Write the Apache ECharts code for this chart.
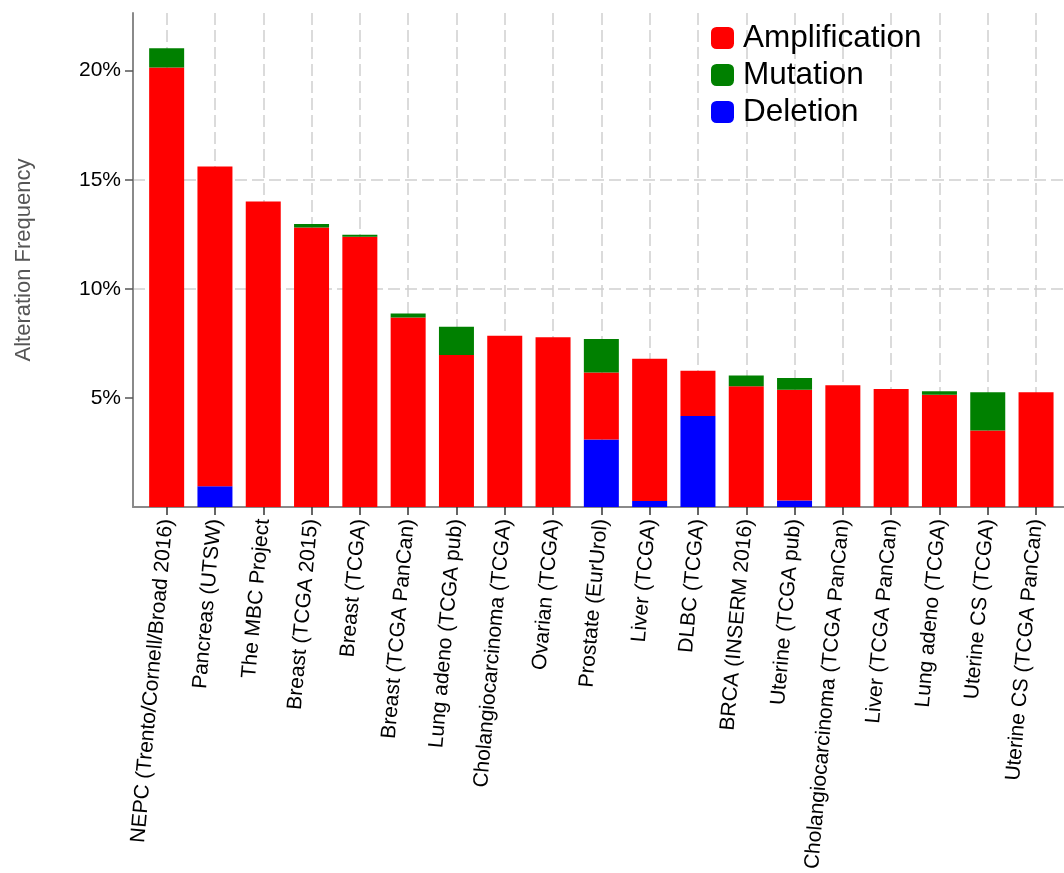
<!DOCTYPE html>
<html>
<head>
<meta charset="utf-8">
<style>
  html, body { margin: 0; padding: 0; background: #fff; }
  #chart { width: 1064px; height: 873px; }
</style>
<script src="https://cdn.jsdelivr.net/npm/echarts@6/dist/echarts.min.js"></script>
</head>
<body>
<div id="chart"></div>
<script>
// Studies, ordered by total alteration frequency
const studies = [
  'NEPC (Trento/Cornell/Broad 2016)',
  'Pancreas (UTSW)',
  'The MBC Project',
  'Breast (TCGA 2015)',
  'Breast (TCGA)',
  'Breast (TCGA PanCan)',
  'Lung adeno (TCGA pub)',
  'Cholangiocarcinoma (TCGA)',
  'Ovarian (TCGA)',
  'Prostate (EurUrol)',
  'Liver (TCGA)',
  'DLBC (TCGA)',
  'BRCA (INSERM 2016)',
  'Uterine (TCGA pub)',
  'Cholangiocarcinoma (TCGA PanCan)',
  'Liver (TCGA PanCan)',
  'Lung adeno (TCGA)',
  'Uterine CS (TCGA)',
  'Uterine CS (TCGA PanCan)'
];

// Alteration frequency (%) per study, by alteration type
const deletion      = [0, 0.95, 0, 0, 0, 0, 0, 0, 0, 3.09, 0.27, 4.17, 0, 0.30, 0, 0, 0, 0, 0];
const amplification = [20.14, 14.65, 14.00, 12.81, 12.39, 8.68, 6.97, 7.85, 7.78, 3.07, 6.53, 2.08, 5.53, 5.07, 5.58, 5.41, 5.14, 3.51, 5.26];
const mutation      = [0.89, 0, 0, 0.16, 0.09, 0.19, 1.29, 0, 0, 1.54, 0, 0, 0.50, 0.54, 0, 0, 0.16, 1.75, 0];

const yTicks = [5, 10, 15, 20];
const yMax = 22.64;

const FONT = '"Liberation Sans", Arial, Helvetica, sans-serif';
const gridLine = { color: '#cfcfcf', width: 1.5, type: [12, 5] };

const chart = echarts.init(document.getElementById('chart'), null, { renderer: 'canvas' });

chart.setOption({
  animation: false,
  backgroundColor: '#ffffff',
  textStyle: { fontFamily: FONT },
  grid: [
    // frame: axis lines, value ticks and horizontal guides
    { left: 133, right: 0, top: 13, bottom: 366 },
    // bars and category labels
    { left: 142.5, right: 3.8, top: 13, bottom: 366 }
  ],
  legend: {
    data: ['Amplification', 'Mutation', 'Deletion'],
    orient: 'vertical',
    left: 711,
    top: 22,
    padding: 0,
    itemWidth: 23,
    itemHeight: 22,
    itemGap: 5,
    icon: 'roundRect',
    textStyle: {
      fontFamily: FONT,
      fontSize: 31.5,
      color: '#000',
      padding: [0, 0, 0, 4]
    }
  },
  xAxis: [
    {
      type: 'value', gridIndex: 0, min: 0, max: 1,
      axisLine: { show: true, lineStyle: { color: '#8a8a8a', width: 2 } },
      axisTick: { show: false },
      axisLabel: { show: false },
      splitLine: { show: false }
    },
    {
      type: 'category', gridIndex: 1, data: studies,
      axisLine: { show: false },
      axisTick: { show: true, alignWithLabel: true, length: 8, lineStyle: { color: '#333', width: 1.5 } },
      axisLabel: {
        interval: 0, rotate: 85, margin: 12,
        fontFamily: FONT, fontSize: 21, color: '#000'
      },
      splitLine: { show: true, alignWithLabel: true, lineStyle: gridLine }
    }
  ],
  yAxis: [
    {
      type: 'value', gridIndex: 0, min: 0, max: yMax, interval: 5,
      name: 'Alteration Frequency',
      nameLocation: 'middle',
      nameRotate: 90,
      nameGap: 98,
      nameTextStyle: { fontFamily: FONT, fontSize: 22, color: '#555' },
      axisLine: { show: true, lineStyle: { color: '#8a8a8a', width: 2 } },
      axisTick: { show: true, length: 8, customValues: yTicks, lineStyle: { color: '#555', width: 1.5 } },
      axisLabel: {
        margin: 12, fontFamily: FONT, fontSize: 21, color: '#000',
        customValues: yTicks,
        formatter: v => v + '%'
      },
      splitLine: { show: true, showMinLine: false, showMaxLine: false, lineStyle: gridLine }
    },
    {
      type: 'value', gridIndex: 1, min: 0, max: yMax,
      show: false,
      splitLine: { show: false }
    }
  ],
  series: [
    {
      name: 'Deletion', type: 'bar', stack: 'freq',
      xAxisIndex: 1, yAxisIndex: 1, barWidth: 35,
      itemStyle: { color: '#0000ff' },
      data: deletion
    },
    {
      name: 'Amplification', type: 'bar', stack: 'freq',
      xAxisIndex: 1, yAxisIndex: 1, barWidth: 35,
      itemStyle: { color: '#ff0000' },
      data: amplification
    },
    {
      name: 'Mutation', type: 'bar', stack: 'freq',
      xAxisIndex: 1, yAxisIndex: 1, barWidth: 35,
      itemStyle: { color: '#008000' },
      data: mutation
    }
  ]
});
</script>
</body>
</html>
